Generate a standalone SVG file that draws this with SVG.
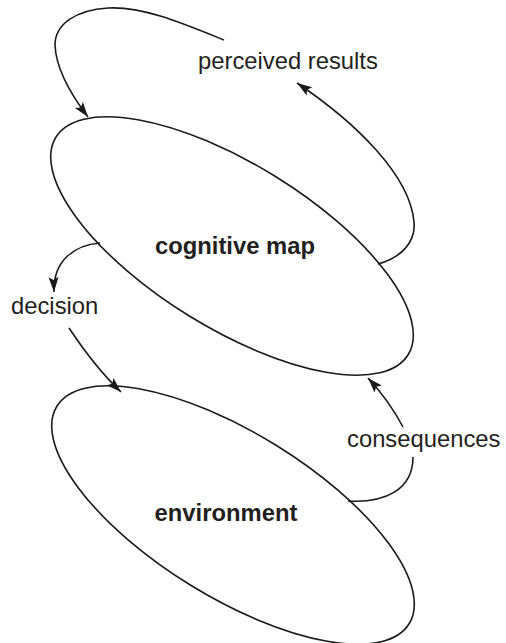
<svg xmlns="http://www.w3.org/2000/svg" width="506" height="643" viewBox="0 0 506 643">
  <defs>
    <marker id="arrow" markerUnits="userSpaceOnUse" markerWidth="18" markerHeight="12" refX="15" refY="6" orient="auto">
      <path d="M0,1 L15,6 L0,11 L3,6 Z" fill="#1a1a1a"/>
    </marker>
    <style>
      .shape { fill: none; stroke: #1a1a1a; stroke-width: 1.6; }
      .link { fill: none; stroke: #1a1a1a; stroke-width: 1.6; }
      .label { font-family: "Liberation Sans", Arial, sans-serif; font-size: 23.8px; fill: #231f20; }
      .title { font-weight: bold; }
    </style>
  </defs>
  <rect width="506" height="643" fill="#ffffff"/>

  <g id="cognitive-map">
    <ellipse class="shape" cx="232" cy="246" rx="207" ry="82" transform="rotate(31.7 232 246)"/>
    <text class="label title" x="235" y="254" text-anchor="middle">cognitive map</text>
  </g>

  <g id="environment">
    <ellipse class="shape" cx="233" cy="515" rx="207" ry="82" transform="rotate(31.7 233 515)"/>
    <text class="label title" x="226" y="521" text-anchor="middle">environment</text>
  </g>

  <g id="perceived-results">
    <text class="label" x="198" y="69">perceived results</text>
  </g>

  <g id="decision">
    <text class="label" x="11" y="314">decision</text>
  </g>

  <g id="consequences">
    <text class="label" x="347" y="447">consequences</text>
  </g>

  <g id="connectors">
    <!-- perceived results feed back into the map -->
    <path class="link" marker-end="url(#arrow)" d="M224,40 C182,23 142,6 108,8 C76,10 55,24 55,45 C56,70 72,96 88,117"/>
    <!-- map output rises to perceived results -->
    <path class="link" marker-end="url(#arrow)" d="M378,264 C400,258 416,243 414,222 C410,175 355,122 297,83"/>
    <!-- map to decision -->
    <path class="link" marker-end="url(#arrow)" d="M100,243 C75,245 53,260 54,292"/>
    <!-- decision to environment -->
    <path class="link" marker-end="url(#arrow)" d="M69,328 C85,352 103,375 121,392"/>
    <!-- environment to consequences -->
    <path class="link" d="M348,501 C385,503 413,490 413,457"/>
    <!-- consequences back to the map -->
    <path class="link" marker-end="url(#arrow)" d="M403,427 C393,408 381,392 368,378"/>
  </g>
</svg>
